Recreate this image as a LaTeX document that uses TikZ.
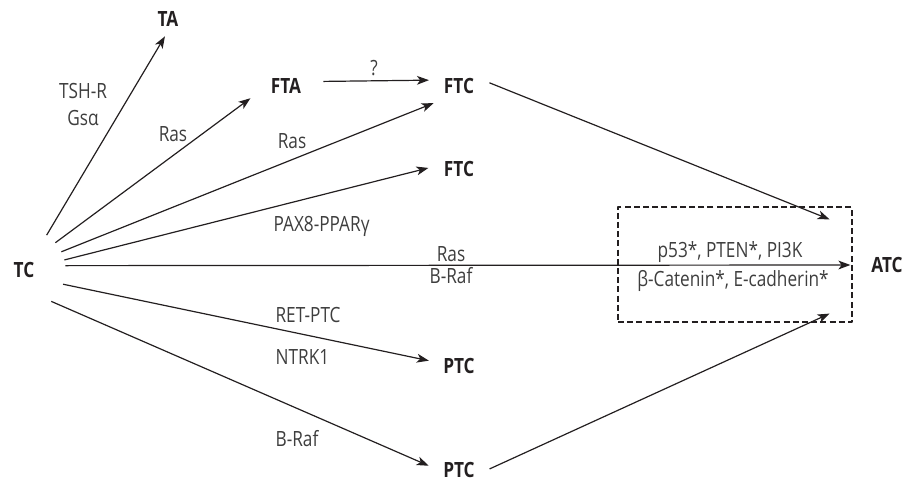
\documentclass[tikz,border=0pt]{standalone}
\usepackage{fontspec}
\setmainfont{Open Sans}[FakeStretch=0.82]
\usetikzlibrary{arrows.meta,positioning}
\definecolor{fg}{RGB}{35,31,32}
\definecolor{mu}{RGB}{62,62,62}
\tikzset{
  every picture/.style={fg, line width=0.6pt, line join=round,
    >={Stealth[length=6pt,width=4.4pt,inset=1.6pt]}},
  every node/.style={font=\fontsize{10.5}{12}\selectfont, text height=7.5pt, text depth=0pt, inner sep=0pt},
  % Tumorstadien
  stage/.style={circle, font=\fontsize{10.5}{12}\selectfont\bfseries, minimum size=#1},
  stage/.default=30pt,
  % Beschriftung der Übergänge
  lbl/.style={text=mu},
  % Rahmen für späte Mutationen
  mutbox/.style={draw, dash pattern=on 3pt off 1.6pt, minimum width=117pt, minimum height=57.5pt},
}

\begin{document}
\begin{tikzpicture}[x=0.5pt, y=-0.5pt]
  \useasboundingbox (0,0) rectangle (912,481);
  % Stadien
  \node[stage=41pt] (TC) at (24,270) {TC};
  \node[stage=17pt] (TA) at (168,19) {TA};
  \node[stage=37pt] (FTA) at (286,86) {FTA};
  \node[stage] (FTCa) at (459,86) {FTC};
  \node[stage] (FTCb) at (459,169) {FTC};
  \node[stage] (PTCa) at (459,366) {PTC};
  \node[stage] (PTCb) at (459,470) {PTC};
  \node[stage=36pt] (ATC) at (887,265) {ATC};
  \node[mutbox] (box) at (735,264.5) {};
  % Übergänge
  \draw[->] (TC.57.7) -- (TA.260);
  \draw[->] (TC.41.1) -- (FTA.199.4);
  \draw[->] (TC.26.6) -- (FTCa.214.6);
  \draw[->] (TC.14) -- (FTCb.178);
  \draw[->] (TC.6.8) -- (ATC.180);
  \draw[->] (TC.340.1) -- (PTCa.170.5);
  \draw[->] (TC.311.9) -- (PTCb.172.4);
  \draw[->] (FTA.7.7) -- (FTCa.169.5);
  \draw[->] (FTCa.6.1) -- ([xshift=-11.5pt,yshift=-6.5pt]box.north east);
  \draw[->] (PTCb.2) -- ([xshift=-11.5pt,yshift=4.5pt]box.south east);
  % Mutationen
  \node[lbl] (tshr) at (83,91) {TSH-R};
  \node[lbl] (gsa) at (83,118) {Gsα};
  \node[lbl] (rasA) at (173,134.5) {Ras};
  \node[lbl] (rasB) at (292,141) {Ras};
  \node[lbl] (unk) at (374,68) {?};
  \node[lbl, anchor=west] (pax) at (273,224) {PAX8-PPARγ};
  \node[lbl] (rasC) at (451,254.5) {Ras};
  \node[lbl] (brafA) at (451,276) {B-Raf};
  \node[lbl, anchor=west] (ret) at (275,315) {RET-PTC};
  \node[lbl, anchor=west] (ntrk) at (275,357) {NTRK1};
  \node[lbl, anchor=west] (brafB) at (275,439) {B-Raf};
  \node[lbl] (late) at (730,250) {p53*, PTEN*, PI3K};
  \node[lbl] (adh) at (733,279.5) {β-Catenin*, E-cadherin*};
\end{tikzpicture}
\end{document}
